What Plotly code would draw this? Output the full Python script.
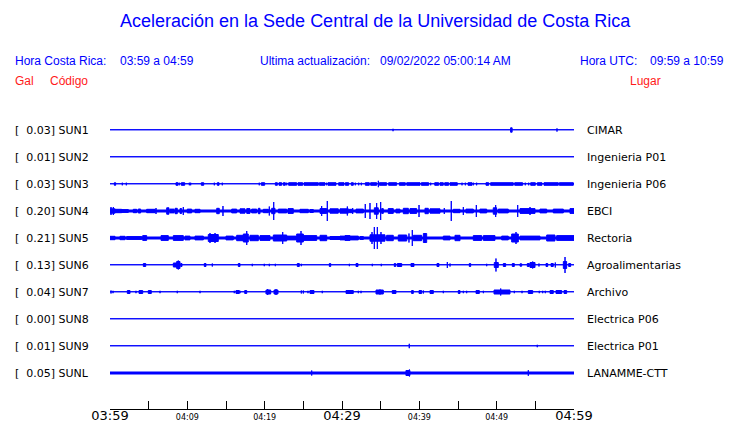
import plotly.graph_objects as go

# ---------------- data ----------------
title_text = "Aceleración en la Sede Central de la Universidad de Costa Rica"
hora_cr = "03:59 a 04:59"
ultima = "09/02/2022 05:00:14 AM"
hora_utc = "09:59 a 10:59"

codes = ["SUN1", "SUN2", "SUN3", "SUN4", "SUN5", "SUN6", "SUN7", "SUN8", "SUN9", "SUNL"]
gal = [0.03, 0.01, 0.03, 0.20, 0.21, 0.13, 0.04, 0.00, 0.01, 0.05]
places = ["CIMAR", "Ingenieria P01", "Ingenieria P06", "EBCI", "Rectoria",
          "Agroalimentarias", "Archivo", "Electrica P06", "Electrica P01", "LANAMME-CTT"]

# background trace half-amplitude (plot units) per station
base_amp = [0.25, 0.25, 0.25, 1.0, 1.0, 0.25, 0.25, 0.25, 0.25, 1.0]

# minutes after 03:59
tick_minutes = [0, 5, 10, 15, 20, 25, 30, 35, 40, 45, 50, 55, 60]
tick_labels = ["03:59", "", "04:09", "", "04:19", "", "04:29", "", "04:39", "", "04:49", "", "04:59"]
major_labels = ["03:59", "04:29", "04:59"]

# bursts: (start minute, end minute, half-amplitude)
sun1 = [(36.6, 36.6, 1.2), (51.8, 52.0, 2.2), (57.8, 57.8, 1.6)]
sun2 = []
sun3 = [(0.56, 0.73, 1.3), (1.59, 1.59, 1.3), (2.11, 2.11, 1.3), (8.53, 8.79, 1.3), (8.95, 8.95, 1.3),
        (9.22, 9.66, 1.3), (10.26, 10.26, 1.3), (10.43, 10.43, 1.3), (11.81, 12.12, 1.3),
        (13.49, 13.49, 1.3), (13.88, 14.1, 1.3), (14.52, 14.52, 1.3), (19.3, 19.3, 1.3),
        (19.57, 20.0, 1.3), (21.38, 21.64, 1.3), (21.85, 22.2, 1.3), (22.41, 22.67, 1.3),
        (22.85, 22.85, 1.3), (23.1, 24.14, 1.3), (24.31, 24.92, 1.3), (25.09, 26.94, 1.3),
        (27.07, 27.8, 1.3), (28.02, 28.02, 1.3), (28.19, 29.22, 1.3), (29.57, 30.26, 1.3),
        (30.43, 30.86, 1.3), (31.2, 31.46, 1.3), (31.72, 31.72, 1.3), (32.16, 32.16, 1.3),
        (32.5, 32.5, 1.3), (33.02, 33.53, 1.3), (33.7, 34.48, 1.3), (34.7, 34.7, 3.2),
        (34.83, 35.77, 1.3), (36.03, 37.07, 1.3), (37.41, 38.19, 1.3), (38.37, 40.09, 1.3),
        (40.26, 41.21, 1.3), (41.47, 41.47, 1.3), (41.99, 42.5, 1.3), (42.67, 43.1, 1.3),
        (43.28, 43.79, 1.3), (43.97, 44.91, 1.3), (45.52, 45.52, 1.3), (45.95, 45.95, 1.3),
        (46.3, 46.81, 1.3), (46.98, 46.98, 1.3), (47.41, 47.41, 1.3), (48.62, 48.97, 1.3),
        (49.22, 52.15, 1.3), (52.33, 53.36, 1.3), (53.7, 53.7, 1.3), (54.14, 54.14, 1.3),
        (54.4, 55.0, 1.3), (55.26, 55.86, 1.3), (56.12, 57.97, 1.3), (58.1, 59.91, 1.3)]
sun4 = [(0.0, 0.65, 2.2), (0.13, 0.13, 4.0), (0.43, 0.43, 4.0), (0.65, 1.51, 1.7), (1.51, 2.37, 1.4),
        (3.01, 3.45, 1.7), (3.66, 3.96, 2.0), (4.74, 5.82, 1.7), (5.95, 5.95, 3.0), (7.33, 7.63, 3.2),
        (7.76, 8.28, 1.9), (8.41, 8.7, 2.7), (9.05, 9.27, 2.4), (9.48, 9.48, 4.0), (9.99, 10.56, 1.9),
        (10.99, 11.64, 1.7), (13.8, 14.13, 2.7), (14.61, 14.61, 5.0), (15.74, 16.38, 1.9),
        (16.81, 17.46, 2.2), (17.68, 18.1, 2.4), (18.32, 18.97, 1.9), (19.18, 19.4, 2.7),
        (19.82, 20.47, 1.7), (20.6, 20.6, 4.5), (20.91, 21.34, 2.7), (21.17, 21.17, 9.0),
        (21.77, 22.85, 1.9), (23.02, 23.7, 2.4), (24.57, 25.64, 1.7), (25.86, 26.29, 1.5),
        (27.16, 28.02, 2.4), (27.37, 27.37, 5.0), (28.1, 28.1, 10.0), (28.45, 29.52, 2.2),
        (29.74, 30.82, 2.2), (30.69, 30.69, 4.5), (30.95, 31.38, 1.7), (31.38, 31.38, 3.0),
        (31.81, 32.76, 1.9), (33.01, 33.01, 7.0), (33.62, 33.62, 8.0), (34.18, 34.69, 3.2),
        (34.48, 34.48, 8.0), (35.0, 35.0, 9.0), (35.13, 35.34, 2.4), (35.98, 36.63, 2.4),
        (36.98, 37.5, 1.9), (37.93, 38.58, 2.7), (38.79, 39.66, 2.4), (39.96, 39.96, 6.0),
        (40.73, 41.16, 2.7), (41.38, 42.67, 2.2), (43.23, 43.23, 3.0), (44.13, 44.13, 10.0),
        (44.39, 45.26, 1.7), (45.69, 45.69, 4.0), (46.03, 46.98, 1.9), (47.37, 47.37, 6.0),
        (47.84, 48.71, 1.9), (49.56, 50.0, 3.2), (49.87, 49.87, 6.0), (50.21, 51.5, 1.9),
        (52.72, 52.72, 6.0), (53.02, 54.96, 2.4), (54.31, 54.31, 4.0), (55.6, 56.47, 1.9),
        (57.32, 58.62, 1.9), (59.48, 60.0, 2.4)]
sun5 = [(0.0, 0.65, 1.7), (1.29, 1.94, 1.7), (2.16, 4.1, 1.4), (4.23, 4.74, 2.4), (6.6, 7.54, 2.4),
        (8.19, 9.48, 2.4), (9.7, 10.34, 1.9), (10.99, 12.07, 1.9), (12.71, 14.0, 3.5),
        (12.93, 12.93, 5.0), (13.58, 13.58, 5.0), (15.0, 15.94, 1.9), (16.38, 17.24, 2.7),
        (17.24, 17.88, 4.0), (17.68, 17.68, 7.0), (18.1, 19.18, 2.7), (19.4, 20.69, 2.4),
        (21.12, 22.85, 3.0), (22.33, 22.33, 6.0), (22.85, 24.14, 1.9), (24.14, 25.0, 4.0),
        (24.7, 24.7, 7.0), (25.0, 26.73, 2.4), (27.16, 28.02, 2.7), (28.45, 29.74, 1.5),
        (29.74, 32.11, 1.9), (30.39, 31.03, 2.4), (32.33, 32.76, 1.5), (33.62, 35.56, 3.2),
        (33.88, 33.88, 6.0), (34.18, 34.18, 11.0), (34.57, 34.57, 11.0), (35.04, 35.04, 6.0),
        (35.77, 36.63, 2.7), (37.28, 38.37, 3.0), (38.66, 38.66, 4.5), (39.09, 39.09, 8.0),
        (39.22, 40.3, 2.7), (40.52, 40.95, 4.5), (43.1, 43.97, 1.9), (44.61, 45.26, 2.7),
        (46.98, 48.06, 2.4), (48.28, 49.78, 2.4), (50.65, 51.5, 1.9), (51.94, 52.8, 4.0),
        (52.5, 52.5, 6.0), (53.02, 55.6, 1.9), (56.47, 57.54, 3.0), (57.76, 60.0, 2.4)]
sun6 = [(4.31, 4.62, 1.5), (8.19, 8.7, 2.0), (8.62, 9.05, 3.5), (8.83, 8.83, 4.5), (9.14, 9.31, 1.5),
        (12.19, 12.41, 1.5), (13.23, 13.23, 1.5), (16.59, 16.81, 1.5), (18.4, 18.4, 1.2),
        (19.95, 19.95, 1.2), (20.6, 20.6, 1.2), (21.38, 21.38, 1.2), (24.22, 24.48, 1.5),
        (24.74, 24.74, 1.2), (28.36, 28.54, 1.5), (30.95, 30.95, 1.2), (31.81, 32.07, 1.5),
        (33.92, 33.92, 1.2), (35.08, 35.08, 1.2), (36.76, 36.94, 1.5), (37.15, 37.72, 1.5),
        (38.92, 39.31, 1.5), (42.28, 42.54, 1.5), (43.62, 43.62, 3.0), (43.97, 43.97, 1.5),
        (46.46, 46.64, 1.5), (48.71, 48.71, 1.2), (49.69, 50.21, 2.5), (49.91, 49.91, 6.5),
        (50.86, 51.16, 1.5), (52.02, 52.28, 1.5), (53.02, 53.24, 1.2), (53.96, 54.22, 1.5),
        (54.31, 54.96, 2.5), (54.66, 54.66, 3.5), (55.47, 55.47, 1.5), (56.38, 56.6, 1.5),
        (57.03, 57.32, 1.5), (57.58, 57.58, 2.5), (58.62, 59.05, 3.5), (58.84, 58.84, 8.0),
        (59.31, 59.57, 1.5)]
sun7 = [(0.13, 0.13, 1.5), (0.39, 0.39, 1.2), (2.24, 2.59, 1.5), (3.36, 3.36, 1.2), (3.75, 4.23, 1.5),
        (4.95, 5.34, 1.5), (6.47, 6.47, 1.2), (8.7, 8.7, 1.2), (11.64, 11.64, 1.2), (16.07, 16.07, 1.2),
        (16.29, 16.72, 1.5), (16.81, 16.81, 1.2), (17.42, 17.68, 1.5), (20.17, 20.78, 2.0),
        (20.39, 20.39, 3.0), (21.21, 21.72, 2.0), (21.47, 21.47, 3.0), (24.74, 24.74, 1.5),
        (25.0, 25.0, 1.5), (25.6, 25.6, 1.2), (25.86, 26.38, 1.5), (27.45, 27.45, 1.2),
        (30.52, 31.46, 1.5), (32.11, 32.11, 1.2), (32.46, 32.46, 1.2), (34.4, 35.34, 2.0),
        (34.91, 34.91, 2.5), (36.5, 36.98, 1.5), (39.0, 39.22, 1.5), (39.96, 40.3, 1.5),
        (40.52, 40.52, 1.5), (41.38, 41.81, 1.5), (43.1, 43.1, 1.2), (45.04, 45.26, 1.5),
        (45.69, 45.69, 1.2), (46.12, 46.12, 1.2), (47.33, 47.76, 1.5), (48.28, 48.28, 1.2),
        (49.66, 51.72, 2.0), (50.52, 50.52, 3.5), (52.28, 52.28, 1.2), (53.28, 53.28, 1.2),
        (54.09, 54.66, 1.5), (55.51, 55.51, 1.2), (55.95, 55.95, 1.2), (56.29, 56.29, 1.2),
        (56.9, 57.32, 1.5), (57.67, 58.41, 1.5), (58.71, 59.05, 1.5)]
sun8 = []
sun9 = [(38.7, 38.7, 2.2), (55.25, 55.25, 1.2)]
sunl = [(26.08, 26.08, 2.5), (38.27, 38.79, 2.5), (38.72, 38.72, 3.5), (54.09, 54.09, 2.8)]

bursts = [sun1, sun2, sun3, sun4, sun5, sun6, sun7, sun8, sun9, sunl]

# ---------------- style / layout ----------------
W, H = 740, 423
L, R = 110, 574          # plot area x pixels
TOP, BOT = 114, 409      # plot area y pixels
FIRST_ROW = 130
ROW_STEP = 27            # px between stations; 1 y-unit == 1 px
BLUE = "#0000ff"
RED = "#ff1a1a"

def px_x(px):
    return (px - L) / (R - L)

def px_y(py):
    return (BOT - py) / (BOT - TOP)

fig = go.Figure()

for i, code in enumerate(codes):
    y0 = ROW_STEP * i
    segs = [(0.0, 60.0, base_amp[i])] + bursts[i]
    xs, ys = [], []
    for s, e, a in segs:
        xs += [s, e, e, s, s, None]
        ys += [y0 - a, y0 - a, y0 + a, y0 + a, y0 - a, None]
    fig.add_trace(go.Scatter(x=xs, y=ys, mode="lines", fill="toself",
                             fillcolor=BLUE, line=dict(color=BLUE, width=1),
                             hoverinfo="skip", showlegend=False))

ticktext = []
for t in tick_labels:
    if t == "":
        ticktext.append("")
    elif t in major_labels:
        ticktext.append(t)
    else:
        ticktext.append('<span style="font-size:8px">%s</span>' % t)

y_top_val = -(FIRST_ROW - TOP)
y_bot_val = BOT - FIRST_ROW

fig.update_layout(
    width=W, height=H,
    margin=dict(l=L, r=W - R, t=TOP, b=H - BOT, autoexpand=False),
    paper_bgcolor="white", plot_bgcolor="white",
    showlegend=False,
    xaxis=dict(range=[0, 60], tickvals=tick_minutes, ticktext=ticktext,
               ticks="inside", ticklen=8, tickwidth=1, tickcolor="black",
               showline=True, linecolor="black", linewidth=1,
               showgrid=False, zeroline=False, fixedrange=True,
               ticklabelstandoff=-6,
               tickfont=dict(family="DejaVu Sans", size=13, color="black")),
    yaxis=dict(range=[y_bot_val, y_top_val], showticklabels=False, ticks="",
               showgrid=False, zeroline=False, showline=False, fixedrange=True),
)

ann = []
def add_text(px, py, text, size, color, family="Liberation Sans", anchor="left"):
    ann.append(dict(x=px_x(px), y=px_y(py), xref="paper", yref="paper", text=text,
                    showarrow=False, xanchor=anchor, yanchor="middle",
                    font=dict(family=family, size=size, color=color)))

add_text(375, 21, title_text, 18, BLUE, anchor="center")
add_text(13, 61, "Hora Costa Rica:", 12, BLUE)
add_text(118, 61, hora_cr, 12, BLUE)
add_text(258, 61, "Ultima actualización:", 12, BLUE)
add_text(378, 61, ultima, 12, BLUE)
add_text(578, 61, "Hora UTC:", 12, BLUE)
add_text(648, 61, hora_utc, 12, BLUE)
add_text(13, 81, "Gal", 12, RED)
add_text(48, 81, "Código", 12, RED)
add_text(628, 81, "Lugar", 12, RED)

for i, code in enumerate(codes):
    py = FIRST_ROW + ROW_STEP * i
    label = "[%6.2f] %s" % (gal[i], code)
    label = label.replace(" ", "\u00a0")
    add_text(13, py, label, 11, "black", family="DejaVu Sans")
    add_text(585, py, places[i], 11, "black", family="DejaVu Sans")

fig.update_layout(annotations=ann)
fig.write_html("out.html", config={"displayModeBar": False},
               post_script="document.body.style.margin='0';document.body.style.overflow='hidden';")
